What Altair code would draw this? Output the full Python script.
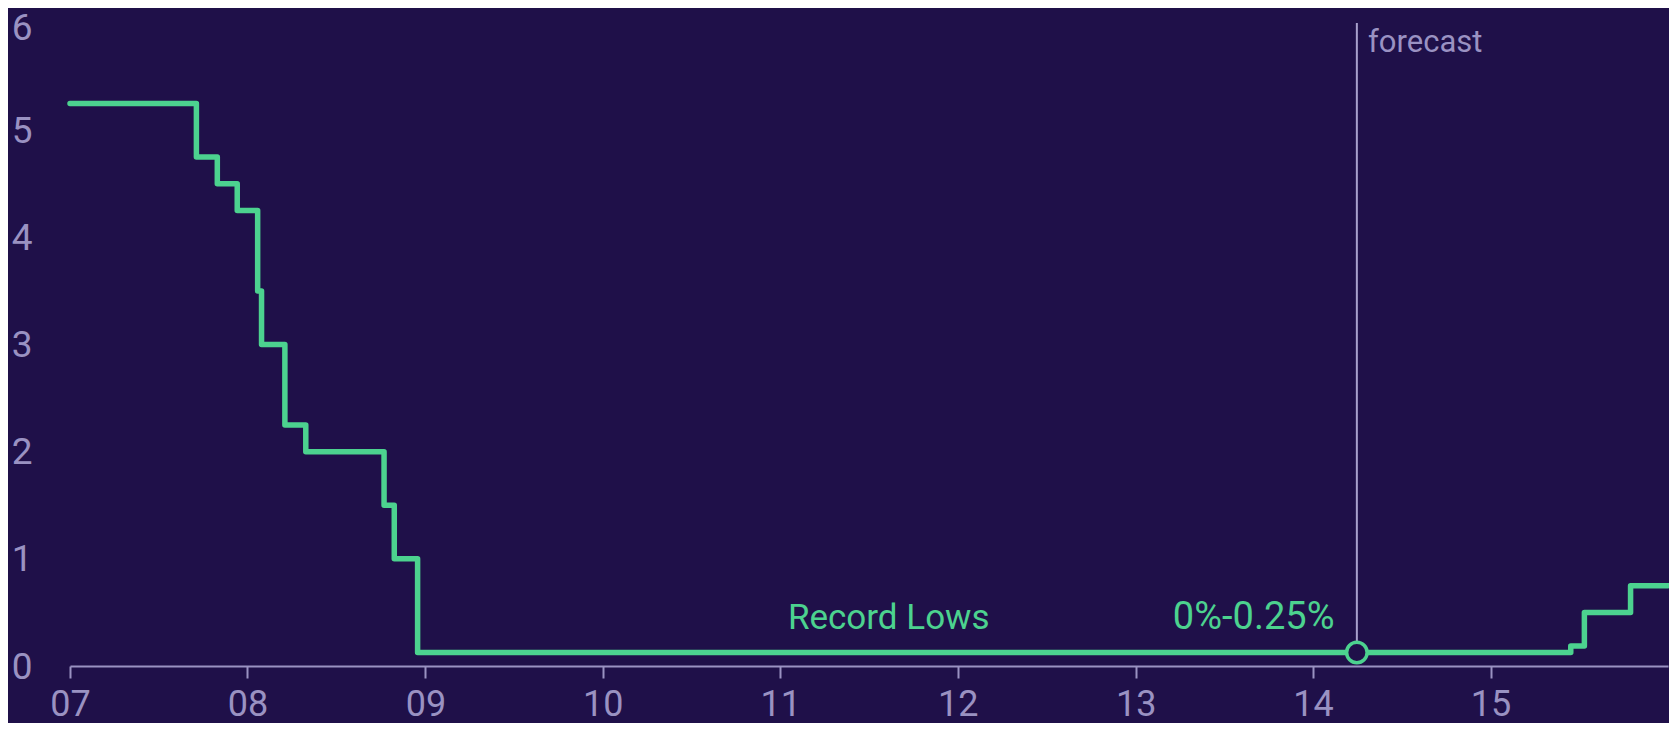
import altair as alt
import pandas as pd

# ---- data ----
step_dates = ["2007-01-01", "2007-09-18", "2007-10-31", "2007-12-11", "2008-01-22",
              "2008-01-30", "2008-03-18", "2008-04-30", "2008-10-08", "2008-10-29",
              "2008-12-16", "2015-06-15", "2015-07-13", "2015-10-16", "2016-01-01"]
rates = [5.25, 4.75, 4.5, 4.25, 3.5, 3.0, 2.25, 2.0, 1.5, 1.0,
         0.125, 0.1875, 0.5, 0.75, 0.75]

forecast_date = ["2014-04-01"]
forecast_rate = [0.125]
forecast_top = [6]

label_texts = ["Record Lows", "0%-0.25%", "forecast"]
label_dates = ["2011-08-12", "2014-02-14", "2014-04-24"]
label_values = [0.45, 0.45, 5.81]
label_align = ["center", "right", "left"]
label_sizes = [35, 38, 31]

year_ticks = list(range(2007, 2016))
y_ticks = [0, 1, 2, 3, 4, 5, 6]

BG = "#1f1049"
GREEN = "#4cd28f"
LAV = "#9a92c2"
RULE = "#a8a0cc"
FONT = "Roboto"

df = pd.DataFrame({"date": step_dates, "rate": rates})
fc = pd.DataFrame({"date": forecast_date, "rate": forecast_rate, "top": forecast_top})
lab = pd.DataFrame({"date": label_dates, "v": label_values, "t": label_texts})

xscale = alt.Scale(domain=[alt.DateTime(year=2007, month=1, date=1),
                           alt.DateTime(year=2016, month=1, date=1)])
yscale = alt.Scale(domain=[0, 6])

xaxis = alt.Axis(values=[alt.DateTime(year=y, month=1, date=1) for y in year_ticks],
                 format="%y", title=None, grid=False, domainColor=LAV, domainWidth=2,
                 tickColor=LAV, tickWidth=2, tickSize=12, labelColor=LAV,
                 labelFontSize=36, labelFont=FONT, labelPadding=9, labelFlush=False)
yaxis = alt.Axis(values=y_ticks, format="d", title=None, grid=False, domain=False,
                 ticks=False, labelColor=LAV, labelFontSize=37, labelFont=FONT,
                 labelPadding=38, labelFlush=False,
                 labelOffset={"condition": {"test": "datum.value == 6", "value": 5},
                              "value": 1})

line = alt.Chart(df).mark_line(interpolate="step-after", color=GREEN, strokeWidth=5.5,
                               strokeJoin="round", strokeCap="round").encode(
    x=alt.X("date:T", scale=xscale, axis=xaxis),
    y=alt.Y("rate:Q", scale=yscale, axis=yaxis),
)

rule = alt.Chart(fc).mark_rule(color=RULE, strokeWidth=2).encode(
    x="date:T", y="rate:Q", y2="top:Q")

point = alt.Chart(fc).mark_point(shape="circle", size=420, filled=True, fill=BG,
                                 stroke=GREEN, strokeWidth=3.5, opacity=1).encode(
    x="date:T", y="rate:Q")

def txt(i, color):
    return alt.Chart(lab.iloc[[i]]).mark_text(
        align=label_align[i], baseline="middle", color=color,
        fontSize=label_sizes[i], font=FONT
    ).encode(x="date:T", y="v:Q", text="t:N")

chart = alt.layer(
    line, rule, point,
    txt(0, GREEN), txt(1, GREEN), txt(2, LAV),
).properties(
    width=1598, height=643,
    autosize=alt.AutoSizeParams(type="none"),
    padding={"left": 62, "top": 15, "right": 1, "bottom": 57},
    background=BG,
).configure_view(stroke=None)

chart.save("out.html", embed_options={"renderer": "svg", "actions": False})
